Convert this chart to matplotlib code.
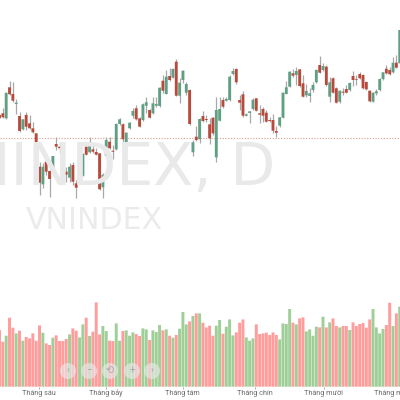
import numpy as np
import matplotlib
matplotlib.use('Agg')
import matplotlib.pyplot as plt
from matplotlib.patches import Circle

plt.rcParams['font.family'] = ['Roboto', 'DejaVu Sans']

# u = closed up (green), d = closed down (red)
direction = ('dduddududd' 'dddudduddd' 'duddu' 'ududd' 'duudduuduu' 'u'
             'dduuduuud' 'ududuuudud' 'udddduuduu' 'uddduuuddd' 'd'
             'ddduuuudu' 'dduuuududu' 'dduddudddd' 'dduuuuddud' 'u')

body_top = [285, 286.7, 307.3, 312.7, 306, 297.3, 284, 280.7, 285, 276.7, 271.7, 266.7, 233.3, 233.3, 238.3, 229, 244,
            256, 253.3, 249, 228.3, 233.3, 235, 216.7, 225.3, 246, 253.3, 254, 250.7, 248, 246.7, 225.3, 260, 258.3,
            249.3, 276, 280.7, 275.7, 267.3, 277.3, 289,
            291.7, 281.7, 295.7, 297.7, 290, 296.7, 296, 312.3, 319.3, 323.3, 324, 331, 338.3, 317.3, 329.3, 316, 310,
            257.7, 263.3, 281, 284, 281, 275.7, 282.3, 290, 291, 300, 301, 323.3, 329, 331, 300, 305.7, 285.7, 288.7,
            300.3, 301.7, 286.7, 291, 287.3,
            280, 280, 269, 282.7, 307.3, 312.7, 328.3, 326.7, 329, 330.7, 316.7, 309, 306.7, 315, 330, 335, 334, 333.3,
            317.7, 321.7, 311.7, 309.3, 308.3, 311, 317, 324, 320.7, 326, 325, 318, 309.3, 307.3, 308.7, 321, 327.7,
            331.3, 330, 337.3, 337.3, 370]
body_bottom = [281.7, 282.7, 281.7, 305.7, 299.3, 296, 269, 270.7, 273.3, 271.7, 267.7, 247.3, 217.3, 215.7, 228.3, 221,
               228.3, 253.3, 251.7, 234.3, 225.3, 222.3, 218.3, 212.3, 223.3, 224.3, 245.3, 247.7, 248.3, 245.3, 210.7,
               212.7, 244.3, 251.7, 248.3, 250.7, 276, 260.7, 258, 271.7, 284.3,
               280.7, 273.3, 280, 294.3, 282.3, 286.7, 294.3, 294, 309.3, 306, 320, 322.3, 304.3, 304.3, 320, 307.3, 276,
               247.7, 260, 260.7, 279, 280, 261.7, 266.7, 242.7, 279.3, 293.3, 299.3, 300, 326, 317.7, 297.3, 284.3,
               284.3, 287, 291, 289.3, 285.3, 284.3, 278.3,
               279, 269.3, 267.3, 274.3, 282.3, 306, 313.3, 324.3, 325, 314, 303.3, 304.7, 304, 310, 317.7, 327.3, 330,
               315, 303.3, 307.3, 297.3, 298.3, 307.3, 307.3, 310, 320, 320, 321.7, 311.7, 310.7, 298.7, 298.3, 306.7,
               310, 321, 326.7, 325.7, 327.7, 332.3, 336.7]
highs = [286.7, 291.7, 307.3, 319.3, 318.3, 300.7, 288.3, 280.7, 288.3, 285, 278.3, 267.3, 238.3, 237.3, 246.7, 233.3,
         244, 262.7, 258.3, 250, 233.3, 237.3, 238.3, 220, 226.7, 246.7, 255, 262.7, 255, 251.7, 247.3, 226.7, 263.3,
         263.3, 255, 276.7, 281.7, 276.7, 268.3, 278.3, 291.7,
         295, 283.3, 296.7, 303.3, 290.7, 303.3, 303.3, 313.3, 325, 330, 331.7, 331.7, 340.7, 321.7, 330, 318.3, 310.7,
         260, 274, 281.7, 289, 285, 281.7, 283.3, 302.7, 303.3, 303.3, 302.7, 325, 331.7, 331.7, 305, 309.3, 286.7,
         289.3, 301.7, 302.3, 295, 293.3, 290,
         283.3, 285.7, 274, 283.3, 308.3, 319, 329.3, 331, 333.3, 331, 325, 316, 311.7, 317.7, 331, 344, 336.7, 335,
         323.3, 323.3, 313.3, 310, 311.7, 315, 317.7, 329, 325, 328.3, 325.7, 319, 310, 308, 310.7, 321.7, 328.3, 335,
         333.3, 343.3, 345, 370]
lows = [280.7, 281.7, 280.7, 305, 298.3, 285.7, 268.3, 270, 270, 271, 266.7, 246.7, 205, 211.7, 225, 202.7, 228.3, 250,
        246.7, 234, 218.3, 218.3, 215, 201.7, 218.3, 224, 245, 247.3, 246.7, 244.7, 210, 201.7, 243.3, 250.7, 240.7,
        250, 275, 257.3, 255, 270.7, 281.7,
        280, 272.7, 279.3, 286.7, 281.7, 286, 293.3, 293.3, 306.7, 305.7, 319.3, 321.7, 304, 297.3, 316.7, 305, 275.3,
        244, 259.3, 256.7, 278.3, 278.3, 256, 265, 238.3, 279, 291.7, 299.3, 299.3, 325, 315.7, 290, 283.3, 283.7,
        276.7, 290, 289, 277.3, 278.3, 277.7,
        278.3, 266.7, 262.7, 273.3, 281.7, 306, 312.7, 323.3, 315, 313.3, 302.7, 302.7, 298.3, 308.3, 317.3, 326.7,
        329.3, 314.3, 298.3, 306.7, 296.7, 297.3, 305, 306.7, 309.3, 314.3, 315, 320.7, 311, 310, 298.3, 298, 305,
        309.3, 320.3, 326, 325, 327, 331.7, 336]
volumes = [56.7, 45, 51, 69, 59, 53.3, 56, 46, 49.7, 48.3, 53.3, 46, 61.3, 54, 43.3, 41.7, 49, 51.3, 45.7, 45.7, 47.7,
           52.3, 58.3, 56, 49.3, 62.3, 69, 50.7, 55, 84.3, 52.3, 60.7, 55.7, 46, 45.7, 63.3, 46, 55.7, 56.3, 51, 54.3,
           52.7, 50.7, 58.3, 57.3, 46.7, 56.3, 54.7, 61.7, 56.3, 57.3, 51, 49, 51.7, 58, 74.7, 62.3, 65.3, 70.7, 73.3,
           73.3, 64, 59.3, 61, 51, 61, 66.7, 53, 60, 67.3, 51.3, 54.3, 64, 67.3, 49.3, 46, 48.3, 62.3, 52.7, 53.3, 54,
           51.7, 54.3, 51.7, 47.3, 63.3, 62.7, 77.7, 64, 62.3, 68.3, 69.3, 55.3, 57.3, 51, 60, 59.3, 70, 59.3, 64.3,
           68.3, 60.7, 59.3, 60.7, 60.7, 56.7, 64.3, 60.7, 62.7, 63.7, 59, 67.3, 77.7, 59.3, 53.3, 57.7, 61.7, 84, 60.7,
           73.3, 80]
ref_level = 262.5
month_labels = ['Tháng sáu', 'Tháng bảy', 'Tháng tám', 'Tháng chín', 'Tháng mười', 'Tháng mười một']
month_pos = [11.7, 31.9, 54.9, 76.6, 97.2, 120.4]

UP = '#5f9f83'
DOWN = '#b84a3c'
VOL_UP = '#9fcf97'
VOL_DOWN = '#ff9c9c'

x = np.arange(len(body_top))
colors = [UP if d == 'u' else DOWN for d in direction]
vol_colors = [VOL_UP if d == 'u' else VOL_DOWN for d in direction]

fig = plt.figure(figsize=(4, 4), dpi=100, facecolor='white')

fig.text(275 / 400, 1 - 185 / 400, 'VNINDEX, D', fontsize=42, color='#e9e9e9', ha='right', va='baseline',
         family='DejaVu Sans')
fig.text(26 / 400, 1 - 229 / 400, 'VNINDEX', fontsize=21.6, color='#ebebeb', ha='left', va='baseline',
         family='DejaVu Sans')

ax = fig.add_axes([0, 0, 1, 1])
ax.patch.set_alpha(0)
ax.axis('off')
ax.set_xlim(0.15, 120.09)
ax.set_ylim(0, 400)
ax.axhline(ref_level, color='#e39a90', linewidth=0.8, linestyle=(0, (1, 1.5)))
ax.vlines(x, lows, highs, color='#a8a8a8', linewidth=0.9, zorder=2)
bodies = ax.bar(x, np.array(body_top) - np.array(body_bottom), bottom=body_bottom, width=0.85, color=colors, zorder=3)
for b in bodies:
    b.set_snap(False)

vol_ax = fig.add_axes([0, 13.3 / 400, 1, 0.25])
vol_ax.patch.set_alpha(0)
vol_ax.axis('off')
vol_ax.set_xlim(0.15, 120.09)
vol_ax.set_ylim(0, 100)
vol_bars = vol_ax.bar(x, volumes, width=0.88, color=vol_colors)
for b in vol_bars:
    b.set_snap(False)

for label, pos in zip(month_labels, month_pos):
    ax.text(pos, 6.5, label, fontsize=5.2, color='#6a6a6a', ha='center', va='center', clip_on=True)
    ax.vlines(pos, 11.5, 13, color='#888888', linewidth=0.5)

# zoom buttons over the volume bars
ov = fig.add_axes([0, 0, 1, 1])
ov.patch.set_alpha(0)
ov.axis('off')
ov.set_xlim(0, 400)
ov.set_ylim(400, 0)
for bx, glyph in zip([68, 89, 110, 132, 152], ['‹', '−', '⟲', '+', '›']):
    ov.add_patch(Circle((bx, 371), 8, facecolor='#e8e8e8', edgecolor='none', alpha=0.65))
    ov.text(bx, 370.5, glyph, fontsize=7, color='#a8a8a8', ha='center', va='center')

fig.savefig('out.png', dpi=100)
